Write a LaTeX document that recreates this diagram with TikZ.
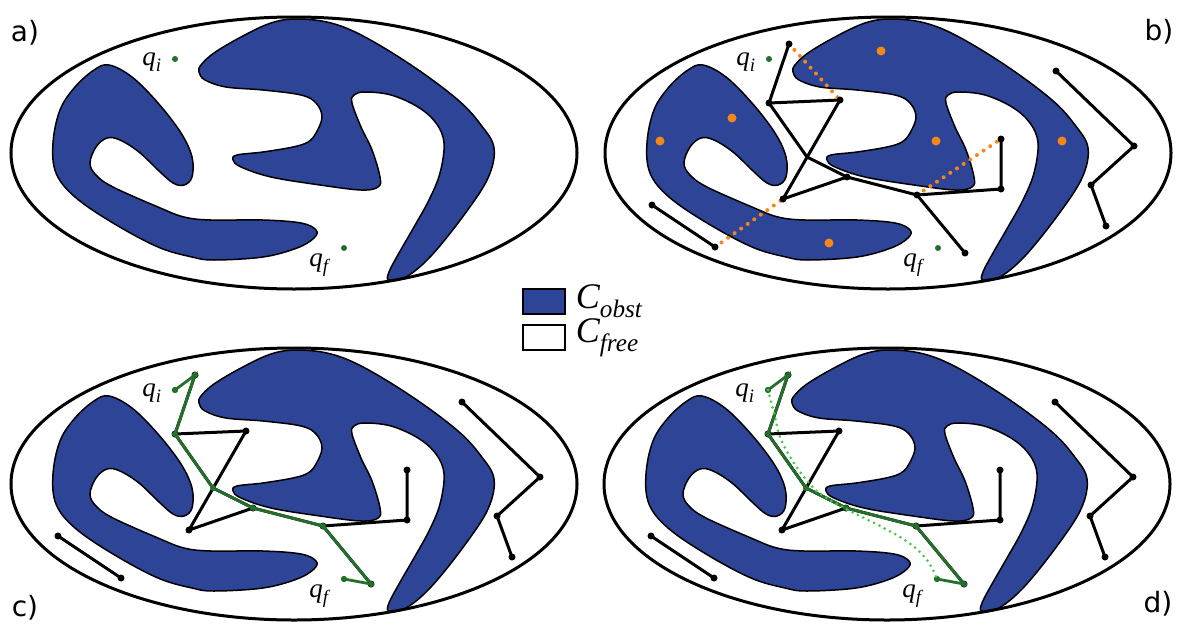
\documentclass[tikz,border=0pt]{standalone}
\usepackage{amsmath}
\usepackage{fontspec}
\setmainfont{Liberation Serif}
\newfontfamily\labelfont{DejaVu Sans}
\usetikzlibrary{positioning}
\definecolor{obstblue}{RGB}{46,68,151}
\definecolor{sampleorange}{RGB}{245,135,25}
\definecolor{pathgreen}{RGB}{34,112,42}
\definecolor{smoothgreen}{RGB}{75,200,75}

\tikzset{
  obstacle/.style={fill=obstblue, draw=black, line width=1.5pt},
  border/.style={draw=black, line width=3pt},
  edge/.style={line width=3pt, line cap=round},
  fail/.style={sampleorange, line width=4pt, line cap=round, dash pattern=on 0pt off 8pt},
  sol/.style={pathgreen, line width=2.8pt, line cap=round},
  smoothsol/.style={smoothgreen, line width=3pt, line cap=round, dash pattern=on 0pt off 6pt},
  qlabel/.style={inner sep=0pt, font=\fontsize{27}{30}\selectfont},
  panel/.style={inner sep=0pt, font=\labelfont\fontsize{28}{32}\selectfont},
  legendbox/.style={draw=black, line width=1.5pt, minimum width=42pt, minimum height=25pt, inner sep=0pt},
  legendtxt/.style={inner sep=0pt, font=\fontsize{36}{40}\selectfont},
}

% free space, obstacles, start and goal
\newcommand\cspace{
  \draw[obstacle] plot[smooth cycle, tension=0.6] coordinates {
    (703,65) (726,77) (752,103) (775,133) (786,157) (786,177) (778,185)
    (767,183) (752,170) (733,152) (714,140) (701,138) (690,147) (684,163)
    (690,175) (707,187) (752,207) (778,217) (805,220) (857,220) (895,223)
    (910,230) (908,238) (891,248) (857,257) (808,260) (786,257) (752,247)
    (707,223) (669,197) (650,173) (647,143) (654,110) (669,87) (688,70)};
  \draw[obstacle] plot[smooth cycle, tension=0.6] coordinates {
    (793,72) (799,80) (820,87) (857,90) (895,95) (910,103) (916,117)
    (910,133) (902,142) (887,147) (857,152) (831,155) (827,160) (835,167)
    (865,177) (914,185) (955,190) (972,187) (974,177) (966,150) (955,127)
    (946,103) (948,95) (959,92) (985,95) (1012,107) (1030,123) (1038,143)
    (1034,173) (1023,200) (1008,227) (993,253) (983,272) (983,280) (1000,277)
    (1025,256) (1058,215) (1082,178) (1088,148) (1075,125) (1052,100)
    (1008,67) (959,37) (925,23) (891,19) (865,23) (835,37) (808,53) (795,65)};
  \draw[border] (888,153) ellipse [x radius=283, y radius=136];
  \coordinate (qi) at (769,59);
  \coordinate (qf) at (938,248);
  \fill[pathgreen] (qi) circle[radius=3];
  \fill[pathgreen] (qf) circle[radius=3];
  \node[qlabel] (qilab) at (746,62) {$\textit{q}_{\textit{i}}$};
  \node[qlabel] (qflab) at (913,265) {$\textit{q}_{\textit{f}}$};
}

% roadmap built from the samples
\newcommand\roadmap{
  \coordinate (A) at (789,44);
  \coordinate (B) at (769,103);
  \coordinate (C) at (840,100);
  \coordinate (X) at (807,157);
  \coordinate (D) at (783,199);
  \coordinate (E) at (847,177);
  \coordinate (F) at (917,195);
  \coordinate (G) at (1001,189);
  \coordinate (H) at (1001,139);
  \coordinate (I) at (965,253);
  \coordinate (L1) at (652,205);
  \coordinate (L2) at (715,247);
  \coordinate (R1) at (1056,71);
  \coordinate (R2) at (1134,146);
  \coordinate (R3) at (1091,185);
  \coordinate (R4) at (1106,226);
  \draw[edge] (A) -- (B) -- (C) -- (D) -- (E) -- (F) -- (G) -- (H);
  \draw[edge] (B) -- (X) -- (E);
  \draw[edge] (F) -- (I);
  \draw[edge] (L1) -- (L2);
  \draw[edge] (R1) -- (R2) -- (R3) -- (R4);
}

\newcommand\roadnodes{
  \foreach \n in {A,B,C,D,E,F,G,H,I,L1,L2,R1,R2,R3,R4}
    \fill (\n) circle[radius=3.5];
}

\newcommand\solution{
  \draw[sol] (qi) -- (A) -- (B) -- (X) -- (E) -- (F) -- (I) -- (qf);
  \foreach \n in {qi,A,B,X,E,F,I,qf}
    \fill[pathgreen] (\n) circle[radius=3];
}

\begin{document}
\begin{tikzpicture}[x=1pt, y=-1pt]
\useasboundingbox (0,0) rectangle (1178,624);

\begin{scope}[shift={(-594,0)}]
  \cspace
\end{scope}

\begin{scope}
  \cspace
  \roadmap
  \draw[fail] (A) -- (C);
  \draw[fail] (L2) -- (D);
  \draw[fail] (F) -- (H);
  \roadnodes
  \foreach \x/\y in {881/51, 732/118, 660/141, 936/141, 1062/141, 829/243}
    \fill[sampleorange] (\x,\y) circle[radius=4.5];
\end{scope}

\begin{scope}[shift={(-594,331)}]
  \cspace
  \roadmap
  \roadnodes
  \solution
\end{scope}

\begin{scope}[shift={(-1,331)}]
  \cspace
  \roadmap
  \roadnodes
  \solution
  \draw[smoothsol] plot[smooth, tension=0.7] coordinates {(qi) (776,86) (781,106)
    (793,129) (810,152) (826,166) (853,181) (883,196) (910,212) (928,229) (qf)};
\end{scope}

\node[panel] (la) at (25,33) {a)};
\node[panel] (lb) at (1159,32) {b)};
\node[panel] (lc) at (25,608) {c)};
\node[panel] (ld) at (1158,604) {d)};

\node[legendbox, fill=obstblue] (obstbox) at (544,301.5) {};
\node[legendbox, fill=white] (freebox) at (544,337.5) {};
\node[legendtxt, right=10pt of obstbox] (obstlab) {$\textit{C}_{\textit{obst}}$};
\node[legendtxt, right=10pt of freebox] (freelab) {$\textit{C}_{\textit{free}}$};
\end{tikzpicture}
\end{document}
